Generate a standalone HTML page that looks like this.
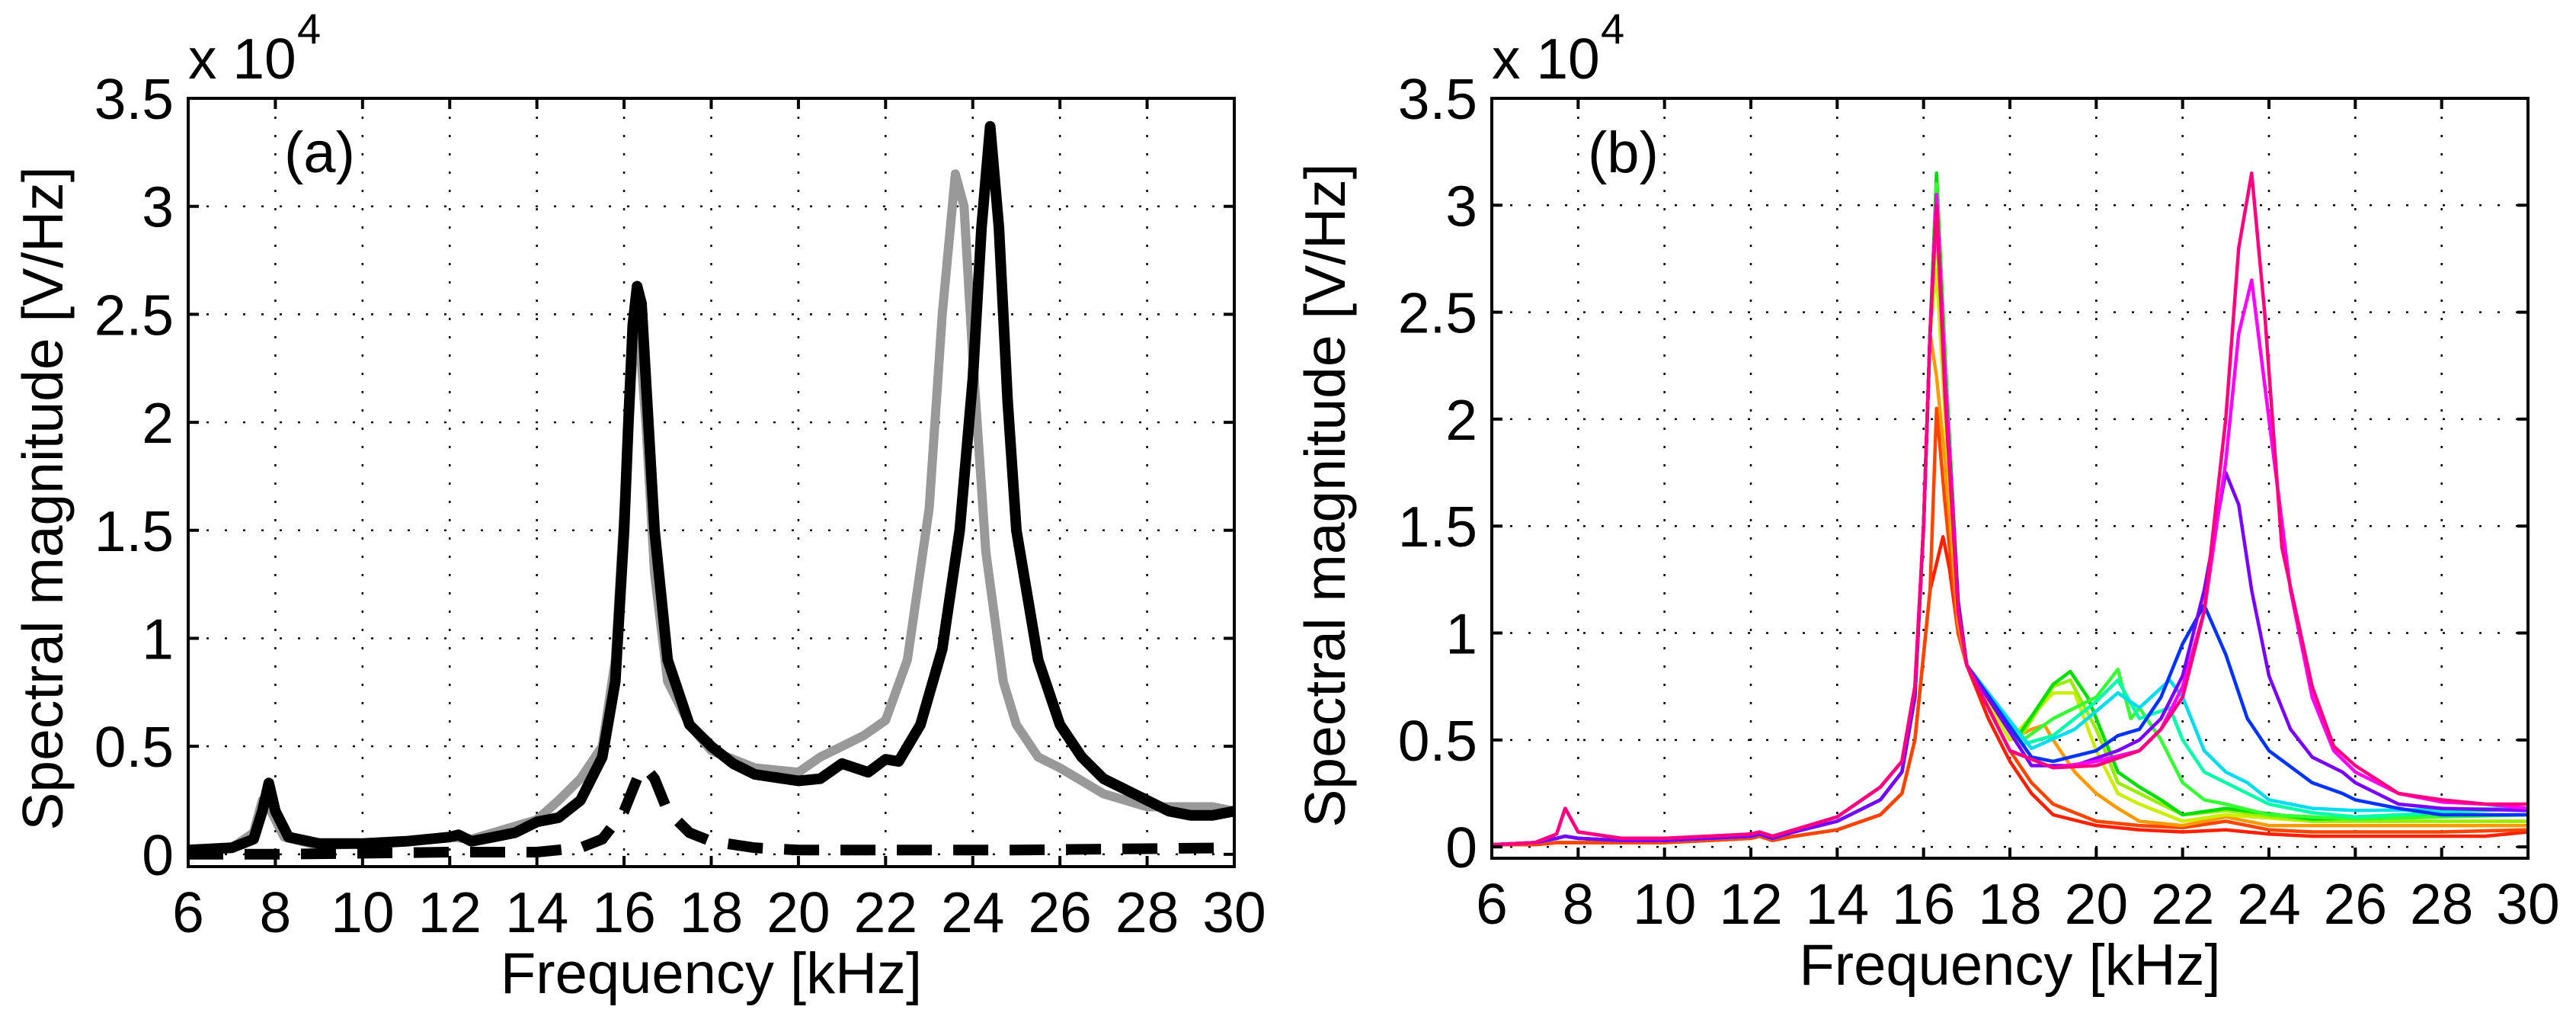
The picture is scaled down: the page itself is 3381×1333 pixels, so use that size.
<!DOCTYPE html>
<html><head><meta charset="utf-8">
<style>
html,body{margin:0;padding:0;background:#fff;}
svg{display:block;font-family:"Liberation Sans",Arial,sans-serif;}
</style></head>
<body>
<svg id="fig" width="3381" height="1333" viewBox="0 0 3381 1333" xmlns="http://www.w3.org/2000/svg">
<rect width="3381" height="1333" fill="#fff"/>
<g id="panelA"></g>
<g id="panelB"></g>
</svg>
<script>
// ---------- shared axis data ----------
const xTicks = [6,8,10,12,14,16,18,20,22,24,26,28,30];
const yTicks = [0,0.5,1,1.5,2,2.5,3,3.5];
const yTickLabels = ["0","0.5","1","1.5","2","2.5","3","3.5"];

// ---------- panel (a) data (x: kHz, y: x1e4 V/Hz) ----------
const aGrayF = [6,7,7.5,7.7,7.9,8.2,9,10,11,12,12.5,13,14,14.5,15,15.5,15.8,16,16.2,16.35,16.5,16.7,17,17.5,18,19,20,20.5,21,21.5,22,22.5,23,23.3,23.6,23.8,24,24.3,24.7,25,25.5,26,27,28,29,29.5,30];
const aGrayV = [0.02,0.03,0.1,0.25,0.2,0.08,0.04,0.05,0.06,0.08,0.07,0.1,0.16,0.25,0.35,0.5,0.9,1.6,2.3,2.4,2.0,1.3,0.8,0.6,0.48,0.4,0.38,0.45,0.5,0.55,0.62,0.9,1.6,2.5,3.15,3.0,2.3,1.4,0.8,0.6,0.45,0.4,0.28,0.22,0.22,0.22,0.2];
const aBlackF = [6,7,7.5,7.7,7.85,8,8.3,9,10,11,12,12.2,12.5,13,13.5,14,14.5,15,15.5,15.8,16,16.1,16.2,16.3,16.4,16.5,16.7,17,17.5,18,18.5,19,20,20.5,21,21.3,21.6,22,22.3,22.8,23.3,23.7,24,24.2,24.4,24.6,24.8,25,25.5,26,26.5,27,28,28.5,29,29.5,30];
const aBlackV = [0.02,0.03,0.07,0.2,0.33,0.2,0.08,0.05,0.05,0.06,0.08,0.09,0.06,0.08,0.1,0.15,0.17,0.25,0.45,0.8,1.5,2.0,2.45,2.63,2.55,2.2,1.5,0.9,0.6,0.5,0.42,0.37,0.34,0.35,0.42,0.4,0.38,0.44,0.43,0.6,0.95,1.5,2.2,2.9,3.37,2.9,2.1,1.5,0.9,0.6,0.45,0.35,0.25,0.2,0.18,0.18,0.2];
const aDashF = [6,8,12,14,15,15.5,16,16.3,16.5,16.7,17,17.5,18,19,20,25,30];
const aDashV = [0,0,0.01,0.01,0.03,0.07,0.2,0.35,0.4,0.35,0.2,0.1,0.06,0.03,0.02,0.02,0.03];

// ---------- panel (b) data ----------
const bLowF = [6,7,7.5,7.7,8,9,10,11,12,12.2,12.5,13,14,15,15.5,15.8,16,16.15];
const bLowNormal = [0.01,0.02,0.04,0.05,0.04,0.03,0.03,0.04,0.05,0.06,0.04,0.07,0.12,0.22,0.35,0.7,1.5,2.4];
const bLowPink = [0.01,0.02,0.06,0.18,0.07,0.04,0.04,0.05,0.06,0.07,0.05,0.08,0.14,0.28,0.4,0.75,1.5,2.4];
const bLowRed = [0.01,0.01,0.02,0.02,0.02,0.02,0.02,0.03,0.04,0.05,0.03,0.05,0.08,0.15,0.25,0.5,0.9,1.2];
const bColors = ["#ff2000","#ff4400","#ff9900","#ccee00","#99ee00","#00e000","#33ff33","#00ffaa","#00ddee","#0033ff","#7a00ff","#ff00ff","#ff0080"];
const bLowType = ["red","red","normal","normal","normal","normal","normal","normal","normal","normal","normal","pink","pink"];
const bHighF = [
 [16.45,16.6,16.8,17,17.5,18,18.5,19,20,21,22,23,24,25,26,27,28,29,30],
 [16.3,16.5,16.8,17,18,18.5,19,20,21,22,23,24,25,26,28,30],
 [16.3,16.5,16.8,17,18,18.5,18.8,19,19.5,20,20.5,21,22,23,24,25,30],
 [16.3,16.5,16.8,17,18,19,19.5,20,20.5,21,22,23,25,30],
 [16.3,16.5,16.8,17,18.2,19,19.4,20,20.5,21,22,23,25,30],
 [16.3,16.5,16.8,17,18.2,19,19.4,19.8,20.5,21,21.5,22,23,25,30],
 [16.3,16.5,16.8,17,18.3,19,20,20.5,20.8,21,21.5,22,22.5,23,24,25,26,30],
 [16.3,16.5,16.8,17,18.3,19,20,20.5,21,21.7,22,22.5,23,24,25,26,30],
 [16.3,16.5,16.8,17,18.5,19.5,20.5,21,21.7,22,22.5,23,23.5,24,25,26,30],
 [16.3,16.5,16.8,17,18.5,19,20,20.5,21,21.5,22,22.5,23,23.5,24,25,25.7,26,27,28,30],
 [16.3,16.5,16.8,17,18.5,19.5,20.5,21,21.5,22,22.5,23,23.3,23.6,24,24.5,25,25.7,26,27,28,30],
 [16.3,16.5,16.8,17,18,19,20,21,21.5,22,22.5,23,23.3,23.6,24,24.5,25,25.5,26,27,28,29,30],
 [16.3,16.5,16.8,17,18,19,20,21,21.5,22,22.5,23,23.3,23.6,23.9,24.3,25,25.5,26,27,28,29,30]
];
const bHighV = [
 [1.45,1.3,1.0,0.85,0.6,0.4,0.25,0.15,0.1,0.08,0.07,0.08,0.06,0.05,0.05,0.05,0.05,0.05,0.07],
 [2.05,1.6,1.0,0.85,0.45,0.3,0.2,0.12,0.1,0.09,0.12,0.08,0.07,0.07,0.07,0.08],
 [2.2,1.8,1.05,0.85,0.5,0.55,0.57,0.5,0.35,0.25,0.18,0.12,0.1,0.14,0.1,0.1,0.1],
 [2.7,2.0,1.1,0.85,0.5,0.72,0.72,0.45,0.25,0.2,0.12,0.15,0.12,0.12],
 [2.9,2.1,1.1,0.85,0.5,0.75,0.78,0.55,0.3,0.25,0.15,0.17,0.12,0.12],
 [3.15,2.3,1.15,0.85,0.52,0.76,0.82,0.7,0.35,0.28,0.22,0.15,0.18,0.13,0.15],
 [3.1,2.3,1.15,0.85,0.5,0.6,0.7,0.83,0.6,0.65,0.5,0.3,0.22,0.2,0.15,0.14,0.13,0.15],
 [3.0,2.2,1.15,0.85,0.48,0.52,0.68,0.78,0.6,0.65,0.5,0.35,0.3,0.2,0.16,0.14,0.18],
 [3.0,2.2,1.15,0.85,0.46,0.55,0.72,0.65,0.78,0.7,0.45,0.35,0.3,0.22,0.18,0.17,0.18],
 [3.05,2.2,1.15,0.85,0.42,0.4,0.45,0.52,0.55,0.7,0.95,1.13,0.9,0.6,0.45,0.3,0.25,0.22,0.18,0.15,0.15],
 [3.05,2.2,1.15,0.85,0.38,0.38,0.45,0.5,0.6,0.8,1.2,1.75,1.6,1.2,0.8,0.55,0.42,0.35,0.3,0.2,0.18,0.17],
 [3.05,2.2,1.1,0.85,0.45,0.37,0.4,0.45,0.55,0.75,1.1,1.8,2.4,2.65,2.0,1.2,0.7,0.45,0.35,0.25,0.21,0.2,0.18],
 [3.0,2.1,1.1,0.85,0.45,0.37,0.38,0.45,0.55,0.7,1.1,2.0,2.8,3.15,2.5,1.4,0.75,0.47,0.38,0.25,0.22,0.2,0.2]
];

const NS = "http://www.w3.org/2000/svg";
function mk(parent, tag, attrs){
  const e = document.createElementNS(NS, tag);
  for (const k in attrs) e.setAttribute(k, attrs[k]);
  parent.appendChild(e);
  return e;
}

function drawAxes(g, P){
  const sx = v => P.x0 + (v - 6) / 24 * (P.x1 - P.x0);
  const sy = v => P.y0 + (3.5 - v) / (3.5 - P.ymin) * (P.y1 - P.y0);
  xTicks.forEach((t,i) => {
    if (i === 0 || i === xTicks.length-1) return;
    const l = mk(g, "line", {x1:sx(t), x2:sx(t), y1:P.y0, y2:P.y1, stroke:"#000", "stroke-width":2.5, "stroke-dasharray":"3 21"});
    
    
  });
  yTicks.forEach((t,i) => {
    if (i === yTicks.length-1) return;
    const l = mk(g, "line", {x1:P.x0, x2:P.x1, y1:sy(t), y2:sy(t), stroke:"#000", "stroke-width":2.5, "stroke-dasharray":"3 21"});
    
    
  });
  return {sx, sy};
}

function drawFrame(g, P, S, panelLetter){
  const {sx, sy} = S;
  const box = mk(g, "rect", {x:P.x0, y:P.y0, width:P.x1-P.x0, height:P.y1-P.y0, fill:"none", stroke:"#000", "stroke-width":4});
  
  
  xTicks.forEach((t,i) => {
    const x = sx(t);
    const tk = mk(g, "path", {d:`M${x},${P.y1}v-14M${x},${P.y0}v14`, stroke:"#000", "stroke-width":4});
    
    
    const tx = mk(g, "text", {x:x, y:P.y1+86, "font-size":75, "text-anchor":"middle", fill:"#000"});
    tx.textContent = String(t);
    
    
  });
  yTicks.forEach((t,i) => {
    const y = sy(t);
    const tk = mk(g, "path", {d:`M${P.x0},${y}h14M${P.x1},${y}h-14`, stroke:"#000", "stroke-width":4});
    
    
    const tx = mk(g, "text", {x:P.x0-19, y:y+27, "font-size":75, "text-anchor":"end", fill:"#000"});
    tx.textContent = yTickLabels[i];
    
    
  });
  const xl = mk(g, "text", {x:(P.x0+P.x1)/2, y:P.y1+166, "font-size":76, "text-anchor":"middle", fill:"#000"});
  xl.textContent = "Frequency [kHz]";
  
  
  const yl = mk(g, "text", {x:0, y:0, "font-size":75, "text-anchor":"middle", fill:"#000", transform:`translate(${P.ylabX},${P.ylabY}) rotate(-90)`});
  yl.textContent = "Spectral magnitude [V/Hz]";
  
  
  const ex = mk(g, "text", {x:P.x0, y:P.y0-26, "font-size":75, fill:"#000"});
  ex.textContent = "x 10";
  
  
  const sup = mk(g, "text", {x:P.x0+143, y:P.y0-72, "font-size":56, fill:"#000"});
  sup.textContent = "4";
  
  
  const pl = mk(g, "text", {x:P.x0+126, y:P.y0+97, "font-size":76, fill:"#000"});
  pl.textContent = panelLetter;
  
  
}

function pathD(S, F, V){
  return F.map((f,i) => (i?"L":"M") + S.sx(f).toFixed(1) + "," + S.sy(V[i]).toFixed(1)).join("");
}

// ---------- Panel A ----------
const PA = {x0:247, x1:1620, y0:129, y1:1137, ymin:-0.057, ylabX:82, ylabY:654};
const gA = document.getElementById("panelA");
const SA = drawAxes(gA, PA);
const clipA = mk(gA, "clipPath", {id:"clipA"});
mk(clipA, "rect", {x:PA.x0, y:PA.y0, width:PA.x1-PA.x0, height:PA.y1-PA.y0});
const gray = mk(gA, "path", {d:pathD(SA, aGrayF, aGrayV), fill:"none", stroke:"#999", "stroke-width":12, "stroke-linejoin":"round", "clip-path":"url(#clipA)"});


const dash = mk(gA, "path", {d:pathD(SA, aDashF, aDashV), fill:"none", stroke:"#000", "stroke-width":14, "stroke-dasharray":"46 28", "clip-path":"url(#clipA)"});


const blk = mk(gA, "path", {d:pathD(SA, aBlackF, aBlackV), fill:"none", stroke:"#000", "stroke-width":14, "stroke-linejoin":"round", "clip-path":"url(#clipA)"});


drawFrame(gA, PA, SA, "(a)");

// ---------- Panel B ----------
const PB = {x0:1958, x1:3318, y0:129, y1:1126, ymin:-0.053, ylabX:1765, ylabY:650};
const gB = document.getElementById("panelB");
const SB = drawAxes(gB, PB);
const clipB = mk(gB, "clipPath", {id:"clipB"});
mk(clipB, "rect", {x:PB.x0, y:PB.y0, width:PB.x1-PB.x0, height:PB.y1-PB.y0});
bColors.forEach((c, i) => {
  const low = bLowType[i] === "pink" ? bLowPink : (bLowType[i] === "red" ? bLowRed : bLowNormal);
  const F = bLowF.concat(bHighF[i]);
  const V = low.concat(bHighV[i]);
  const p = mk(gB, "path", {d:pathD(SB, F, V), fill:"none", stroke:c, "stroke-width":4.5, "stroke-linejoin":"round", "clip-path":"url(#clipB)"});
  
  
});
drawFrame(gB, PB, SB, "(b)");
</script>
</body></html>
